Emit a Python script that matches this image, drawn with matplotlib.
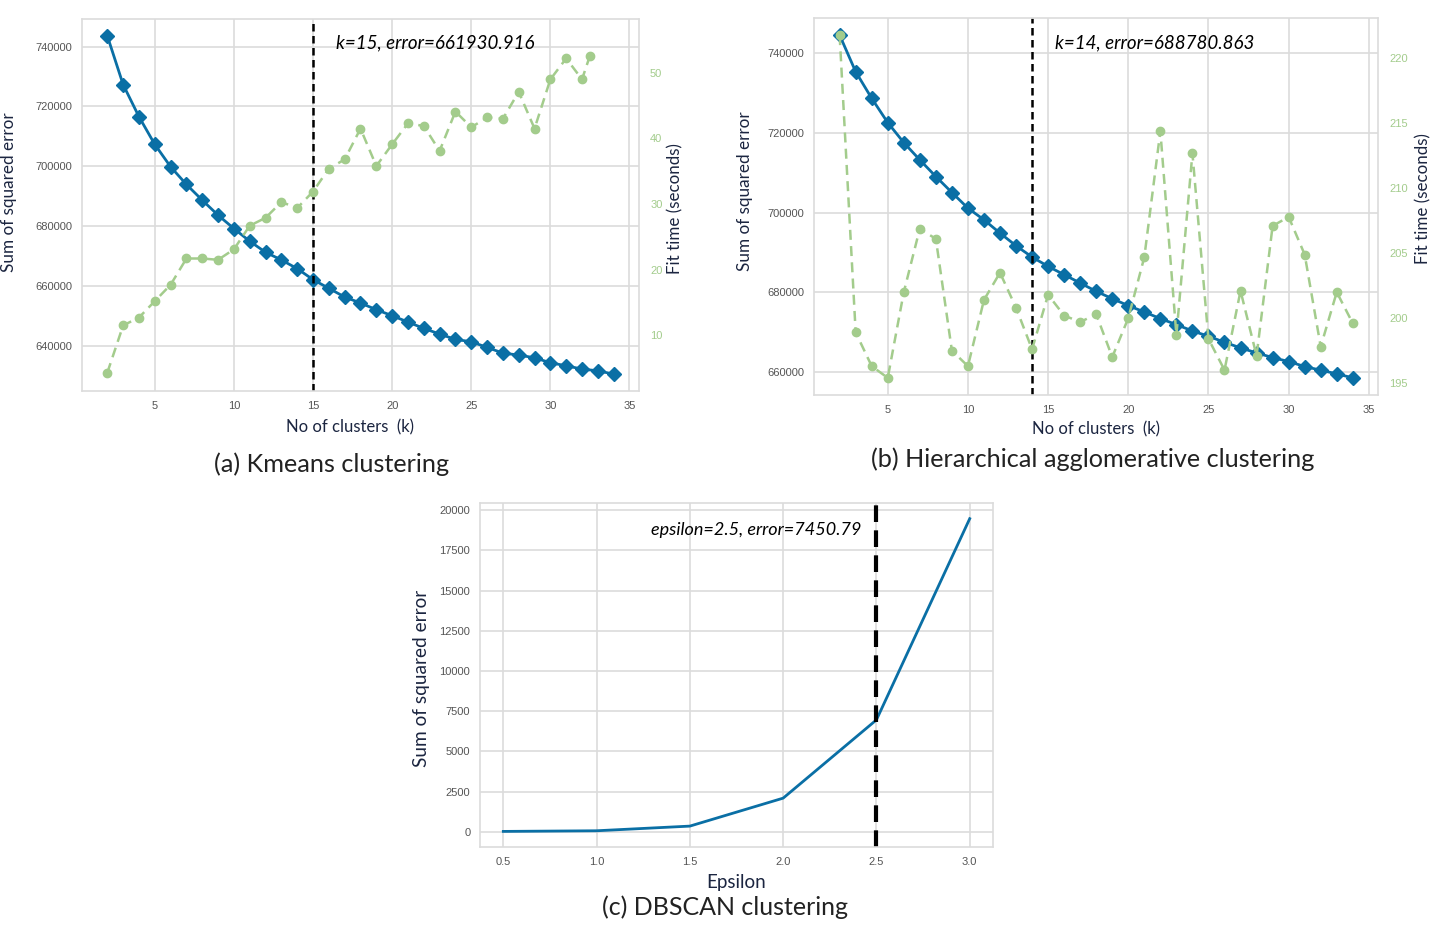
import numpy as np
import matplotlib.pyplot as plt
from matplotlib.transforms import blended_transform_factory

# Data
k_values = list(range(2, 35))

kmeans_sse = [743571, 727277, 716563, 707300, 699821, 693906, 688661, 683638,
              679174, 674933, 671250, 668683, 665781, 662098, 659196, 656295,
              654286, 652054, 650045, 647924, 645804, 643906, 642121, 641339,
              639442, 637545, 636875, 635982, 634308, 633304, 632188, 631629,
              630513]
kmeans_time_k = list(range(2, 33)) + [32.5]
kmeans_time = [4.3, 11.5, 12.7, 15.2, 17.7, 21.7, 21.7, 21.5, 23.1, 26.7,
               27.9, 30.3, 29.4, 31.9, 35.4, 36.8, 41.5, 35.8, 39.1, 42.3,
               41.9, 38.1, 44.1, 41.7, 43.2, 43.0, 47.1, 41.5, 49.0, 52.2,
               49.0, 52.6]

hier_sse = [744593, 735407, 728727, 722630, 717620, 713278, 709102, 705094,
            701169, 698246, 694906, 691733, 688894, 686555, 684468, 682380,
            680292, 678455, 676701, 675115, 673445, 671942, 670355, 669019,
            667516, 666096, 664843, 663674, 662672, 661420, 660501, 659582,
            658580]
hier_time = [221.8, 198.9, 196.3, 195.4, 202.0, 206.9, 206.1, 197.5, 196.3,
             201.4, 203.5, 200.8, 197.6, 201.8, 200.2, 199.7, 200.3, 197.0,
             200.0, 204.7, 214.4, 198.7, 212.7, 198.4, 196.0, 202.1, 197.1,
             207.1, 207.8, 204.9, 197.8, 202.0, 199.6]

eps_values = [0.5, 1.0, 1.5, 2.0, 2.5, 3.0]
dbscan_sse = [20, 60, 350, 2090, 6960, 19480]

blue = "#0a6fa5"
green = "#a3cc8c"
grid_col = "#dcdcdc"
label_col = "#1b2540"
tick_col = "#555555"
label_font = "Lato"

plt.rcParams["font.family"] = ["Liberation Sans", "DejaVu Sans"]

fig = plt.figure(figsize=(14.44, 9.42), dpi=100)


def style_axes(ax):
    ax.set_facecolor("white")
    ax.grid(True, color=grid_col, linewidth=1.2)
    ax.set_axisbelow(True)
    for sp in ax.spines.values():
        sp.set_color(grid_col)
        sp.set_linewidth(1.2)
    ax.tick_params(length=0, labelsize=8, labelcolor=tick_col, pad=7)


def elbow_panel(rect, sse, times, time_k, best_k, best_err, right_ticks, right_lim):
    ax = fig.add_axes(rect)
    style_axes(ax)
    ax.plot(k_values, sse, marker="D", color=blue, markersize=7, linewidth=2)
    ax.axvline(best_k, color="black", linestyle="--", linewidth=1.8, dashes=(3, 1.8))
    ax.set_xticks([5, 10, 15, 20, 25, 30, 35])
    ax.set_xlim(0.4, 35.6)
    ax.set_xlabel("No of clusters  (k)", fontsize=12, family=label_font,
                  color=label_col, labelpad=5)
    ax.set_ylabel("Sum of squared error", fontsize=12.3, family=label_font,
                  color=label_col, labelpad=6)
    trans = blended_transform_factory(ax.transData, ax.transAxes)
    ax.text(best_k + 1.45, 0.935, f"k={best_k}, error={best_err}",
            transform=trans, fontsize=13.5, style="italic", family=label_font,
            va="center", ha="left", color="black")

    ax2 = ax.twinx()
    ax2.plot(time_k, times, marker="o", color=green, markersize=6,
             linewidth=1.8, linestyle="--", dashes=(4, 2.5))
    ax2.grid(False)
    for sp in ax2.spines.values():
        sp.set_visible(False)
    ax2.set_yticks(right_ticks)
    if right_lim is not None:
        ax2.set_ylim(*right_lim)
    ax2.tick_params(length=0, labelsize=8, labelcolor=green, pad=8)
    ax2.set_ylabel("Fit time (seconds)", fontsize=12.2, family=label_font,
                   color=label_col, labelpad=4)
    return ax, ax2


# (a) Kmeans
ax_a, ax_a2 = elbow_panel([0.0568, 0.5849, 0.3857, 0.3949], kmeans_sse,
                          kmeans_time, kmeans_time_k, 15, "661930.916",
                          [10, 20, 30, 40, 50], (1.5, 58.2))
ax_a.set_yticks([640000, 660000, 680000, 700000, 720000, 740000])
ax_a.xaxis.set_label_coords(0.481, -0.075)
ax_a.yaxis.set_label_coords(-0.116, 0.535)
ax_a2.yaxis.set_label_coords(1.050, 0.49)

# (b) Hierarchical
ax_b, ax_b2 = elbow_panel([0.5637, 0.5807, 0.3909, 0.4002], hier_sse,
                          hier_time, k_values, 14, "688780.863",
                          [195, 200, 205, 210, 215, 220], None)
ax_b.set_yticks([660000, 680000, 700000, 720000, 740000])
ax_b.yaxis.set_label_coords(-0.108, 0.54)
ax_b2.yaxis.set_label_coords(1.065, 0.52)

# (c) DBSCAN
ax_c = fig.add_axes([0.3324, 0.1008, 0.3553, 0.3652])
style_axes(ax_c)
ax_c.plot(eps_values, dbscan_sse, color=blue, linewidth=2)
ax_c.axvline(2.5, color="black", linestyle="--", linewidth=3, dashes=(4, 2))
ax_c.set_xticks(eps_values)
ax_c.set_yticks(np.arange(0, 20001, 2500))
ax_c.set_xlabel("Epsilon", fontsize=13.5, family=label_font, color=label_col,
                labelpad=5)
ax_c.set_ylabel("Sum of squared error", fontsize=13.7, family=label_font,
                color=label_col, labelpad=10)
ax_c.yaxis.set_label_coords(-0.097, 0.49)
trans_c = blended_transform_factory(ax_c.transData, ax_c.transAxes)
ax_c.text(2.42, 0.922, "epsilon=2.5, error=7450.79", transform=trans_c,
          fontsize=13, style="italic", family=label_font, ha="right",
          va="center", color="black")

# Captions
fig.text(332 / 1444, 1 - 464 / 942, "(a) Kmeans clustering", fontsize=18.2,
         family=label_font, ha="center", va="center", color="#222222")
fig.text(1093 / 1444, 1 - 459 / 942, "(b) Hierarchical agglomerative clustering",
         fontsize=18.2, family=label_font, ha="center", va="center", color="#222222")
fig.text(725 / 1444, 1 - 907 / 942, "(c) DBSCAN clustering", fontsize=18,
         family=label_font, ha="center", va="center", color="#222222")

fig.savefig("out.png", dpi=100, facecolor="white")
